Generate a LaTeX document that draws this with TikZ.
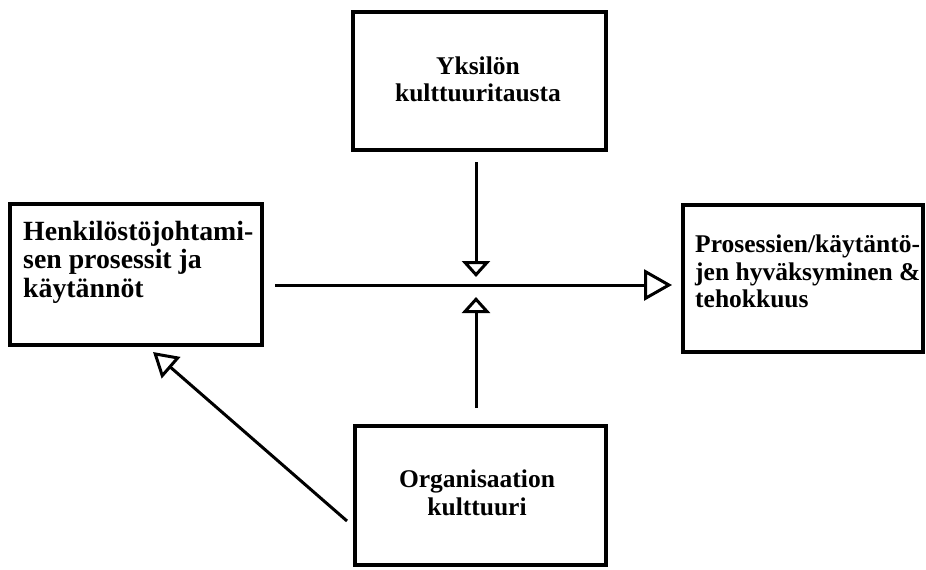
\documentclass[tikz,border=0pt]{standalone}
\usepackage{fontspec}
\setmainfont{Liberation Serif}
\usetikzlibrary{arrows.meta}
\tikzset{
  box/.style={draw, line width=4pt, rectangle, inner sep=0pt},
  txt/.style={inner sep=0pt, font=\bfseries\fontsize{25.5pt}{27.5pt}\selectfont},
  bigtxt/.style={inner sep=0pt, font=\bfseries\fontsize{27.8pt}{28.5pt}\selectfont},
  conn/.style={line width=3pt},
  bighead/.style={-{Triangle[open, length=28pt, width=31pt, line width=3pt]}},
  smallhead/.style={-{Triangle[open, length=16pt, width=28pt, line width=3pt]}},
  diaghead/.style={-{Triangle[open, length=24pt, width=28pt, line width=3pt]}}
}
\begin{document}
\begin{tikzpicture}[x=1pt,y=-1pt]
\useasboundingbox[fill=white] (0,0) rectangle (926,570);
% boxes
\node[box, minimum width=252pt, minimum height=141pt] (L) at (136,274.5) {};
\node[box, minimum width=253pt, minimum height=138pt] (T) at (479.5,81) {};
\node[box, minimum width=240pt, minimum height=147pt] (R) at (803,278.5) {};
\node[box, minimum width=251pt, minimum height=139pt] (B) at (480.5,495.5) {};
% texts
\node[bigtxt, align=left, anchor=north west] (Lt) at (23,221) {Henkilöstöjohtami-\\sen prosessit ja\\käytännöt};
\node[txt, align=center, anchor=north] (Tt) at (478,56.5) {Yksilön\\kulttuuritausta};
\node[txt, align=left, anchor=north west] (Rt) at (695,235) {Prosessien/käytäntö-\\jen hyväksyminen \&\\tehokkuus};
\node[txt, align=center, anchor=north] (Bt) at (477,470) {Organisaation\\kulttuuri};
% connectors
\coordinate (c) at (476,285);
\coordinate (ds) at (347,521);
\coordinate (de) at (153,352);
\draw[conn, bighead, shorten <=11pt, shorten >=9pt] (L.east |- c) -- (R.west |- c);
\draw[conn, smallhead, shorten <=10pt, shorten >=8pt] (T.south -| c) -- (c);
\draw[conn, smallhead, shorten <=16pt, shorten >=12pt] (B.north -| c) -- (c);
\draw[conn, diaghead] (ds) -- (de);
\end{tikzpicture}
\end{document}
